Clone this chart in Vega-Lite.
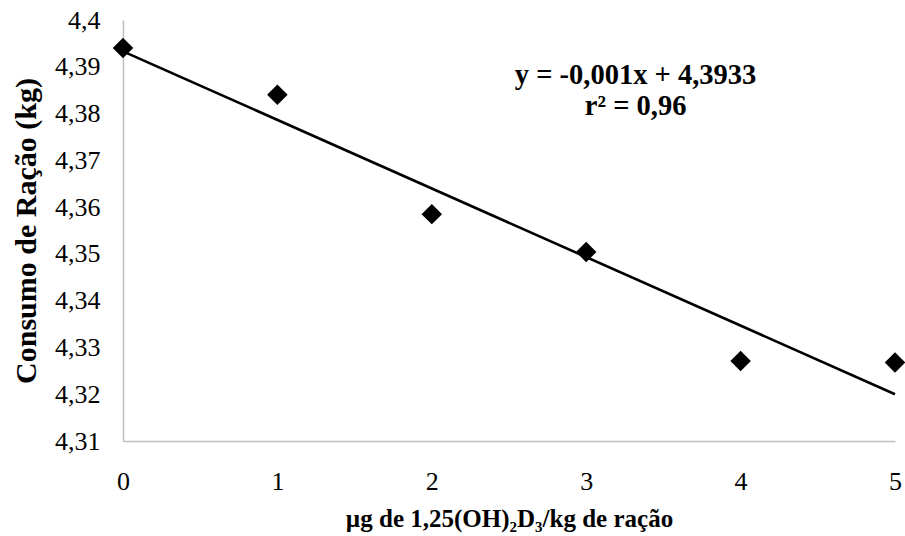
{
  "$schema": "https://vega.github.io/schema/vega-lite/v6.json",
  "width": 772,
  "height": 421,
  "autosize": "none",
  "padding": {"left": 123, "top": 20, "right": 10, "bottom": 95},
  "background": "white",
  "config": {
    "view": {"stroke": null},
    "locale": {"number": {"decimal": ",", "thousands": ".", "grouping": [3], "currency": ["R$", ""]}},
    "font": "Times New Roman, Liberation Serif, serif"
  },
  "datasets": {
    "pts": [
      {"dose": 0, "consumo": 4.394},
      {"dose": 1, "consumo": 4.384},
      {"dose": 2, "consumo": 4.3585},
      {"dose": 3, "consumo": 4.3504},
      {"dose": 4, "consumo": 4.3271},
      {"dose": 5, "consumo": 4.3268}
    ],
    "trend": [
      {"dose": 0, "consumo": 4.3933},
      {"dose": 5, "consumo": 4.3200}
    ],
    "eq": [
      {"dose": 3.32, "consumo": 4.3882, "label": "y = -0,001x + 4,3933"},
      {"dose": 3.32, "consumo": 4.3817, "label": "r² = 0,96"}
    ]
  },
  "layer": [
    {
      "data": {"name": "trend"},
      "mark": {"type": "line", "color": "black", "strokeWidth": 2.6},
      "encoding": {
        "x": {
          "field": "dose", "type": "quantitative",
          "scale": {"domain": [0, 5], "nice": false, "zero": false},
          "axis": {
            "title": "µg de 1,25(OH)₂D₃/kg de ração",
            "titleFont": "Times New Roman, Liberation Serif, serif", "titleFontSize": 25, "titleFontWeight": "bold", "titleColor": "black",
            "titlePadding": 12,
            "values": [0, 1, 2, 3, 4, 5], "format": "d",
            "labelFont": "Times New Roman, Liberation Serif, serif", "labelFontSize": 26, "labelColor": "black",
            "labelPadding": 27, "ticks": false, "grid": false,
            "domainColor": "#bfbfbf", "domainWidth": 1.5, "labelFlush": false
          }
        },
        "y": {
          "field": "consumo", "type": "quantitative",
          "scale": {"domain": [4.31, 4.4], "nice": false, "zero": false},
          "axis": {
            "title": "Consumo de Ração (kg)",
            "titleFont": "Times New Roman, Liberation Serif, serif", "titleFontSize": 30, "titleFontWeight": "bold", "titleColor": "black",
            "titlePadding": 13,
            "values": [4.31, 4.32, 4.33, 4.34, 4.35, 4.36, 4.37, 4.38, 4.39, 4.4],
            "format": ".2~f",
            "labelFont": "Times New Roman, Liberation Serif, serif", "labelFontSize": 26, "labelColor": "black",
            "labelPadding": 23, "ticks": false, "grid": false,
            "domainColor": "#bfbfbf", "domainWidth": 1.5, "labelFlush": false
          }
        }
      }
    },
    {
      "data": {"name": "pts"},
      "mark": {"type": "point", "shape": "diamond", "filled": true, "color": "black", "size": 420, "opacity": 1},
      "encoding": {
        "x": {"field": "dose", "type": "quantitative"},
        "y": {"field": "consumo", "type": "quantitative"}
      }
    },
    {
      "data": {"name": "eq"},
      "mark": {"type": "text", "font": "Times New Roman, Liberation Serif, serif", "fontSize": 28.5, "fontWeight": "bold", "color": "black", "align": "center", "baseline": "middle"},
      "encoding": {
        "x": {"field": "dose", "type": "quantitative"},
        "y": {"field": "consumo", "type": "quantitative"},
        "text": {"field": "label"}
      }
    }
  ]
}
